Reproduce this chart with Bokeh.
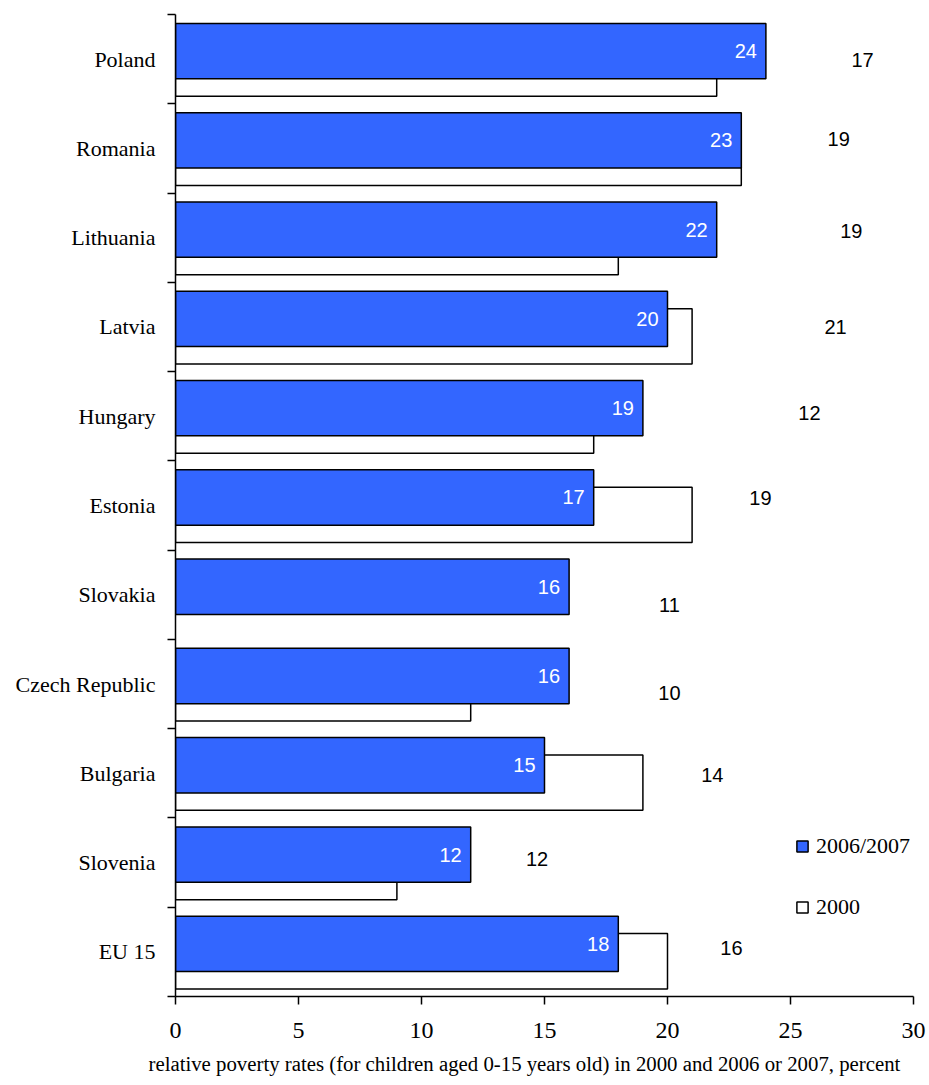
from bokeh.plotting import figure
from bokeh.models import (ColumnDataSource, Range1d, FixedTicker, Legend, LegendItem, Title)
from bokeh.core.properties import value
from bokeh.embed import file_html
from bokeh.resources import INLINE

# ---- data ----
countries = ["Poland", "Romania", "Lithuania", "Latvia", "Hungary", "Estonia",
             "Slovakia", "Czech Republic", "Bulgaria", "Slovenia", "EU 15"]
rate_2006_2007 = [24, 23, 22, 20, 19, 17, 16, 16, 15, 12, 18]
rate_2000 = [22, 23, 18, 21, 17, 21, float("nan"), 12, 19, 9, 20]
extra_labels = ["17", "19", "19", "21", "12", "19", "11", "10", "14", "12", "16"]
# positions of the free-floating labels (data units, as placed in the original)
extra_label_x = [27.93, 26.96, 27.47, 26.83, 25.77, 23.78, 20.08, 20.08, 21.82, 14.70, 22.60]
extra_label_y = [0.515, 1.392, 2.427, 3.505, 4.468, 5.42, 6.618, 7.60, 8.52, 9.455, 10.456]
x_ticks = [0, 5, 10, 15, 20, 25, 30]
axis_title = "relative poverty rates (for children aged 0-15 years old) in 2000 and 2006 or 2007, percent"

BLUE = "#3366FF"
SERIF = "Liberation Serif"
SANS = "Liberation Sans"

n = len(countries)
idx = list(range(n))
BAR_H = 0.62
blue_y = [i + 0.41 for i in idx]
white_y = [i + 0.605 for i in idx]

src = ColumnDataSource(dict(
    blue=rate_2006_2007, white=rate_2000, blue_y=blue_y, white_y=white_y,
    blue_lbl=[str(v) for v in rate_2006_2007],
))
src_extra = ColumnDataSource(dict(x=extra_label_x, y=extra_label_y, t=extra_labels))

p = figure(width=929, height=1085, output_backend="svg", toolbar_location=None,
           x_range=Range1d(0, 30), y_range=Range1d(n, 0),
           min_border_left=175, min_border_right=16, min_border_top=14, min_border_bottom=89)
p.outline_line_color = None
p.xgrid.grid_line_color = None
p.ygrid.grid_line_color = None
p.background_fill_color = "white"
p.border_fill_color = "white"

r_white = p.hbar(y="white_y", right="white", left=0, height=BAR_H, source=src,
                 fill_color="white", line_color="black", line_width=1.5)
r_blue = p.hbar(y="blue_y", right="blue", left=0, height=BAR_H, source=src,
                fill_color=BLUE, line_color="black", line_width=1.5)

p.text(x="blue", y="blue_y", text="blue_lbl", source=src, x_offset=-9,
       text_align="right", text_baseline="middle", text_color="white",
       text_font=value(SANS), text_font_size="20px")
p.text(x="x", y="y", text="t", source=src_extra,
       text_align="center", text_baseline="middle", text_color="black",
       text_font=value(SANS), text_font_size="20px")

# x axis
xa = p.xaxis[0]
xa.ticker = FixedTicker(ticks=x_ticks, minor_ticks=[])
xa.axis_line_color = "black"
xa.axis_line_width = 1.5
xa.major_tick_line_color = "black"
xa.major_tick_line_width = 1.5
xa.major_tick_out = 8
xa.major_tick_in = 0
xa.minor_tick_line_color = None
xa.major_label_text_font = SERIF
xa.major_label_text_font_size = "24px"
xa.major_label_text_color = "black"
xa.major_label_standoff = 18

# y axis: labels at band centres, ticks at band boundaries
ya = p.yaxis[0]
centers = [i + 0.5 for i in idx]
ya.ticker = FixedTicker(ticks=centers, minor_ticks=list(range(n + 1)))
ya.major_label_overrides = {c: name for c, name in zip(centers, countries)}
ya.major_tick_line_color = None
ya.major_tick_out = 0
ya.major_tick_in = 0
ya.minor_tick_line_color = "black"
ya.minor_tick_line_width = 1.5
ya.minor_tick_out = 8
ya.minor_tick_in = 0
ya.axis_line_color = "black"
ya.axis_line_width = 1.5
ya.major_label_text_font = SERIF
ya.major_label_text_font_size = "22px"
ya.major_label_text_color = "black"
ya.major_label_standoff = 12

# axis title (below)
p.add_layout(Title(text=axis_title, align="left", offset=-27, standoff=19,
                   text_font=SERIF, text_font_size="20.8px", text_font_style="normal",
                   text_color="black"), "below")

legend = Legend(items=[LegendItem(label="2006/2007", renderers=[r_blue]),
                       LegendItem(label="2000", renderers=[r_white])],
                location=(620, 76), orientation="vertical",
                glyph_width=14, glyph_height=14, label_height=22, label_standoff=7,
                spacing=35, padding=0, margin=0,
                border_line_color=None, background_fill_alpha=0,
                label_text_font=SERIF, label_text_font_size="22px", label_text_color="black")
p.add_layout(legend)

open("out.html", "w").write(file_html(p, INLINE))
